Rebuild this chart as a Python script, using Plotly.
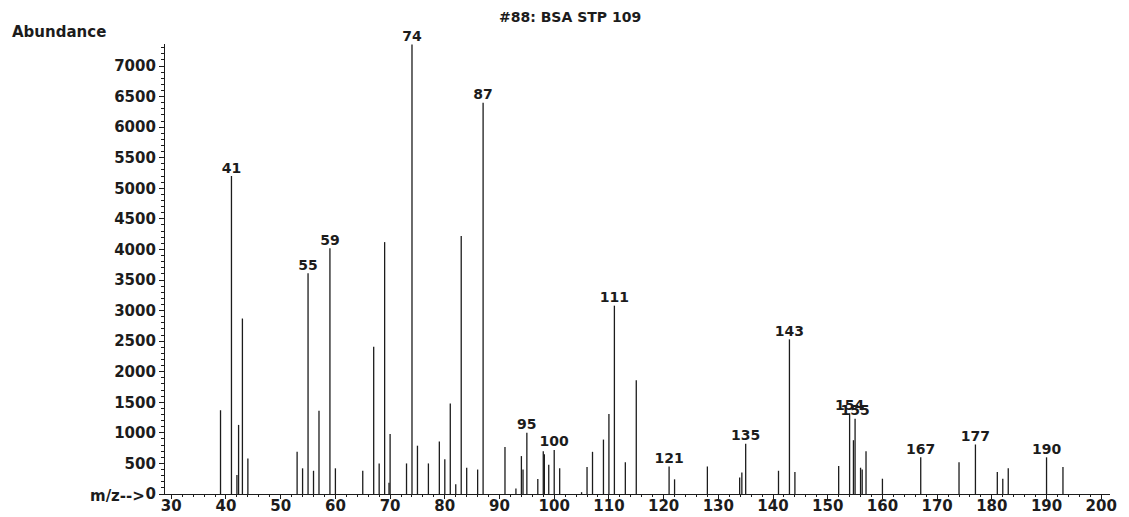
import plotly.graph_objects as go

# ---- data ----
mz = [39, 41, 42.0, 42.3, 43, 44, 53, 54, 55, 56, 57, 59, 60, 65, 67, 68, 69, 69.8, 70,
      73, 74, 75, 77, 79, 80, 81, 82, 83, 84, 86, 87, 91, 93, 94, 94.3, 95, 97, 98, 98.2,
      99, 100, 101, 105, 106, 107, 109, 110, 111, 113, 115, 121, 122, 128, 133.9, 134.3,
      135, 141, 143, 144, 152, 154, 154.7, 155, 156, 156.3, 157, 160, 167, 174, 177, 181,
      182, 183, 190, 193]
abundance = [1370, 5200, 310, 1130, 2870, 580, 690, 420, 3610, 380, 1360, 4020, 420, 380,
             2410, 500, 4120, 185, 980, 500, 7350, 790, 500, 860, 570, 1480, 160, 4220, 430,
             400, 6400, 770, 90, 620, 400, 1000, 245, 700, 650, 480, 720, 420, 30, 440, 690,
             890, 1310, 3080, 520, 1860, 450, 240, 450, 270, 350, 820, 380, 2530, 360, 460,
             1320, 880, 1230, 430, 400, 700, 250, 600, 520, 810, 360, 250, 420, 600, 440]
labelled_mz = [41, 55, 59, 74, 87, 95, 100, 111, 121, 135, 143, 154, 155, 167, 177, 190]
x_ticks = list(range(30, 201, 10))
y_ticks = list(range(0, 7001, 500))

title_text = "#88: BSA STP 109"
y_title = "Abundance"
x_title = "m/z-->"

lookup = dict(zip(mz, abundance))
labelled_ab = [lookup[m] for m in labelled_mz]

line_x, line_y = [], []
for m, a in zip(mz, abundance):
    line_x += [m, m, None]
    line_y += [0, a, None]

ink = "#1c1c1c"
tfont = dict(family="DejaVu Sans", size=15, color=ink, weight="bold")
lfont = dict(family="DejaVu Sans", size=14, color=ink, weight="bold")

fig = go.Figure()
fig.add_trace(go.Scatter(x=line_x, y=line_y, mode="lines",
                         line=dict(color=ink, width=1.3), cliponaxis=False,
                         hoverinfo="skip"))
fig.add_trace(go.Scatter(x=labelled_mz, y=labelled_ab, mode="text",
                         text=[str(m) for m in labelled_mz], textposition="top center",
                         textfont=lfont, cliponaxis=False))

# the page body has an 8px default margin, so the figure is sized/offset to fit
fig.update_layout(
    width=1121, height=509,
    margin=dict(l=157, r=19, t=36, b=23),
    paper_bgcolor="white", plot_bgcolor="white",
    showlegend=False,
    xaxis=dict(range=[28.85, 201.6], tickmode="array", tickvals=x_ticks,
               ticks="outside", ticklen=4, tickwidth=1, tickcolor=ink,
               ticklabelstandoff=-6,
               minor=dict(dtick=2, tick0=30, ticks="outside", ticklen=2, tickcolor=ink),
               showline=True, linecolor=ink, linewidth=1.2,
               showgrid=False, zeroline=False, tickfont=tfont, automargin=False),
    yaxis=dict(range=[0, 7360], tickmode="array", tickvals=y_ticks, tickformat="d",
               ticks="outside", ticklen=5, tickwidth=1, tickcolor=ink,
               minor=dict(dtick=100, tick0=0, ticks="outside", ticklen=2.5, tickcolor=ink),
               showline=True, linecolor=ink, linewidth=1.2,
               showgrid=False, zeroline=False, tickfont=tfont, automargin=False),
    annotations=[
        dict(text=title_text, xref="paper", yref="paper", x=0.4286, y=1.0589,
             xanchor="center", yanchor="middle", showarrow=False,
             font=dict(family="DejaVu Sans", size=14, color=ink, weight="bold")),
        dict(text=y_title, xref="paper", yref="paper", x=-0.164, y=1.0273,
             xanchor="left", yanchor="middle", showarrow=False, font=tfont),
        dict(text=x_title, xref="paper", yref="paper", x=-0.019, y=-0.0044,
             xanchor="right", yanchor="middle", showarrow=False, font=tfont),
    ],
)

fig.write_html("out.html")
